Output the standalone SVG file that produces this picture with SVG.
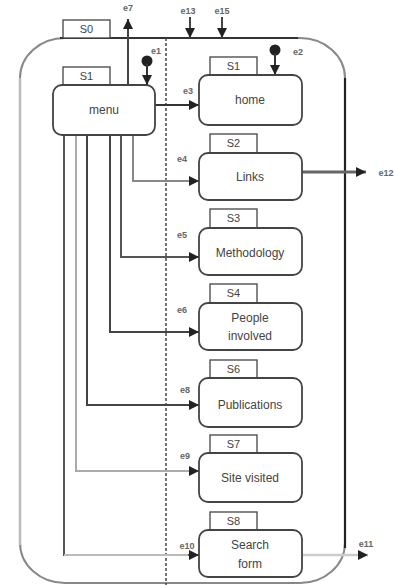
<svg xmlns="http://www.w3.org/2000/svg" width="394" height="585" viewBox="0 0 394 585">
<style>
.node{fill:#fff;stroke:#444;stroke-width:1.8}
.tag{fill:#fff;stroke:#444;stroke-width:1.3}
.t{font-family:"Liberation Sans",Arial,sans-serif;font-size:12px;fill:#444;text-anchor:middle}
.tt{font-family:"Liberation Sans",Arial,sans-serif;font-size:11px;fill:#444;text-anchor:middle}
.e{font-family:"Liberation Sans",Arial,sans-serif;font-size:9px;font-weight:bold;fill:#666;text-anchor:middle}
.c{fill:none;stroke-width:2}
</style>
<defs>
<marker id="ah" viewBox="0 0 10 10" refX="10" refY="5" markerWidth="12" markerHeight="10" markerUnits="userSpaceOnUse" orient="auto">
<path d="M0,0 L10,5 L0,10 z" fill="#222"/>
</marker>
</defs>
<g id="S0">
<rect x="20" y="38" width="325" height="545" rx="45" ry="40" fill="none" stroke="#888" stroke-width="2"/>
<line x1="60" y1="38" x2="298" y2="38" stroke="#333" stroke-width="2"/>
<line x1="345" y1="78" x2="345" y2="548" stroke="#222" stroke-width="2.2"/>
<line x1="20" y1="78" x2="20" y2="545" stroke="#bbb" stroke-width="2.5"/>
<rect class="tag" x="63" y="20" width="47" height="18"/>
<text class="tt" x="86.5" y="33">S0</text>
<line x1="166" y1="38" x2="166" y2="585" stroke="#444" stroke-width="1.5" stroke-dasharray="3,2"/>
</g>
<g id="connectors">
<line class="c" x1="128" y1="85" x2="128" y2="19" stroke="#444" marker-end="url(#ah)"/>
<circle cx="147" cy="61" r="5.5" fill="#222"/>
<line class="c" x1="147" y1="64" x2="147" y2="85" stroke="#333" marker-end="url(#ah)"/>
<line class="c" x1="190" y1="17" x2="190" y2="38" stroke="#444" marker-end="url(#ah)"/>
<line class="c" x1="222" y1="17" x2="222" y2="38" stroke="#444" marker-end="url(#ah)"/>
<circle cx="275" cy="50" r="5.5" fill="#222"/>
<line class="c" x1="275" y1="53" x2="275" y2="75" stroke="#333" marker-end="url(#ah)"/>
<line class="c" x1="155" y1="105" x2="199" y2="105" stroke="#333" marker-end="url(#ah)"/>
<polyline class="c" points="133,135 133,181 199,181" stroke="#888" marker-end="url(#ah)"/>
<polyline class="c" points="121,135 121,257 199,257" stroke="#555" marker-end="url(#ah)"/>
<polyline class="c" points="110,135 110,332 199,332" stroke="#444" marker-end="url(#ah)"/>
<polyline class="c" points="87,135 87,405 199,405" stroke="#444" marker-end="url(#ah)"/>
<polyline class="c" points="76,135 76,471 199,471" stroke="#aaa" marker-end="url(#ah)"/>
<polyline class="c" points="64,135 64,555 199,555" stroke="#555" marker-end="url(#ah)"/>
<line x1="64" y1="555" x2="188" y2="555" stroke="#bbb" stroke-width="2"/>
<line x1="302" y1="172" x2="366" y2="172" stroke="#666" stroke-width="3" marker-end="url(#ah)"/>
<line x1="302" y1="555" x2="368" y2="555" stroke="#ccc" stroke-width="2.5" marker-end="url(#ah)"/>
<text class="e" x="128" y="11">e7</text>
<text class="e" x="156" y="54">e1</text>
<text class="e" x="188" y="14">e13</text>
<text class="e" x="222" y="14">e15</text>
<text class="e" x="298" y="55">e2</text>
<text class="e" x="188" y="94">e3</text>
<text class="e" x="182" y="162">e4</text>
<text class="e" x="182" y="238">e5</text>
<text class="e" x="182" y="313">e6</text>
<text class="e" x="185" y="393">e8</text>
<text class="e" x="185" y="459">e9</text>
<text class="e" x="187" y="549">e10</text>
<text class="e" x="366" y="547">e11</text>
<text class="e" x="386" y="176">e12</text>
</g>
<g id="menu">
<rect class="tag" x="63" y="67" width="47" height="18"/>
<text class="tt" x="86.5" y="80">S1</text>
<rect class="node" x="53" y="85" width="102" height="50" rx="9"/>
<text class="t" x="104" y="114">menu</text>
</g>
<g id="home">
<rect class="tag" x="210" y="57" width="47" height="18"/>
<text class="tt" x="233.5" y="70">S1</text>
<rect class="node" x="199" y="75" width="103" height="50" rx="9"/>
<text class="t" x="250" y="104">home</text>
</g>
<g id="links">
<rect class="tag" x="210" y="134" width="47" height="19"/>
<text class="tt" x="233.5" y="147">S2</text>
<rect class="node" x="199" y="153" width="103" height="47" rx="9"/>
<text class="t" x="250" y="181">Links</text>
</g>
<g id="methodology">
<rect class="tag" x="210" y="209" width="47" height="19"/>
<text class="tt" x="233.5" y="222">S3</text>
<rect class="node" x="199" y="228" width="103" height="47" rx="9"/>
<text class="t" x="250" y="257">Methodology</text>
</g>
<g id="people">
<rect class="tag" x="210" y="284" width="47" height="19"/>
<text class="tt" x="233.5" y="297">S4</text>
<rect class="node" x="199" y="303" width="103" height="47" rx="9"/>
<text class="t" x="250" y="322">People</text>
<text class="t" x="250" y="340">involved</text>
</g>
<g id="publications">
<rect class="tag" x="210" y="360" width="47" height="18"/>
<text class="tt" x="233.5" y="373">S6</text>
<rect class="node" x="199" y="378" width="103" height="49" rx="9"/>
<text class="t" x="250" y="409">Publications</text>
</g>
<g id="sitevisited">
<rect class="tag" x="210" y="435" width="47" height="18"/>
<text class="tt" x="233.5" y="448">S7</text>
<rect class="node" x="199" y="453" width="103" height="49" rx="9"/>
<text class="t" x="250" y="482">Site visited</text>
</g>
<g id="searchform">
<rect class="tag" x="210" y="512" width="47" height="18"/>
<text class="tt" x="233.5" y="525">S8</text>
<rect class="node" x="199" y="530" width="103" height="47" rx="9"/>
<text class="t" x="250" y="549">Search</text>
<text class="t" x="250" y="568">form</text>
</g>
</svg>
